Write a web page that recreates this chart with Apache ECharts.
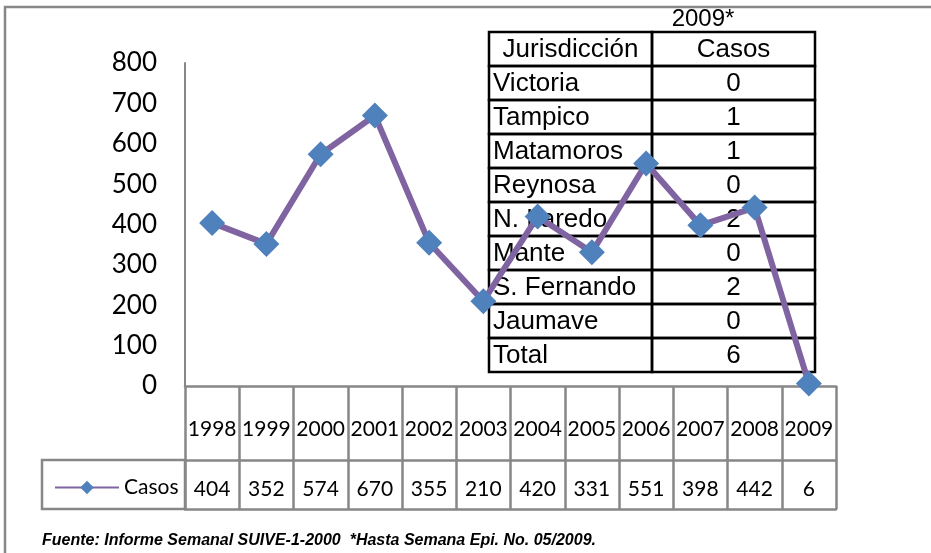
<!DOCTYPE html>
<html>
<head>
<meta charset="utf-8">
<script src="https://cdn.jsdelivr.net/npm/echarts@6/dist/echarts.min.js"></script>
<style>
  html, body { margin: 0; padding: 0; background: #fff; }
  #chart { width: 931px; height: 553px; }
</style>
</head>
<body>
<div id="chart"></div>
<script>
var years = ['1998', '1999', '2000', '2001', '2002', '2003', '2004', '2005', '2006', '2007', '2008', '2009'];
var casos = [404, 352, 574, 670, 355, 210, 420, 331, 551, 398, 442, 6];
var yTicks = { min: 0, max: 800, interval: 100 };

var jurisdicciones = ['Victoria', 'Tampico', 'Matamoros', 'Reynosa', 'N. Laredo', 'Mante', 'S. Fernando', 'Jaumave', 'Total'];
var casos2009 = [0, 1, 1, 0, 2, 0, 2, 0, 6];

var gray = '#878787';
var chart = echarts.init(document.getElementById('chart'));

// table of 2009 cases drawn on top of the plot
var tbl = { x: 489, y: 32, w1: 163, w2: 163, rowH: 34 };
var tableEls = [];
var rows = [['Jurisdicción', 'Casos']].concat(jurisdicciones.map(function (j, i) { return [j, String(casos2009[i])]; }));
rows.forEach(function (r, i) {
  var top = tbl.y + i * tbl.rowH;
  tableEls.push({
    type: 'rect', z: 1,
    shape: { x: tbl.x, y: top, width: tbl.w1, height: tbl.rowH },
    style: { fill: 'none', stroke: '#000', lineWidth: 2.5 }
  });
  tableEls.push({
    type: 'rect', z: 1,
    shape: { x: tbl.x + tbl.w1, y: top, width: tbl.w2, height: tbl.rowH },
    style: { fill: 'none', stroke: '#000', lineWidth: 2.5 }
  });
  tableEls.push({
    type: 'text', z: 1,
    x: i === 0 ? tbl.x + tbl.w1 / 2 : tbl.x + 4, y: top + tbl.rowH / 2 + 1,
    style: { text: r[0], font: '26px "Liberation Sans"', fill: '#000',
      textAlign: i === 0 ? 'center' : 'left', textVerticalAlign: 'middle' }
  });
  tableEls.push({
    type: 'text', z: 1,
    x: tbl.x + tbl.w1 + tbl.w2 / 2, y: top + tbl.rowH / 2 + 1,
    style: { text: r[1], font: '26px "Liberation Sans"', fill: '#000',
      textAlign: 'center', textVerticalAlign: 'middle' }
  });
});
tableEls.push({
  type: 'text', z: 1, x: 703, y: 19,
  style: { text: '2009*', font: '24px "Liberation Sans"', fill: '#000', textAlign: 'center', textVerticalAlign: 'middle' }
});

var option = {
  animation: false,
  backgroundColor: '#fff',
  grid: { left: 185, right: 95, top: 63, bottom: 167 },
  legend: {
    left: 49, top: 472,
    itemWidth: 64, itemHeight: 17, itemGap: 0,
    textStyle: { fontFamily: 'Lato', fontSize: 21, color: '#000' },
    data: ['Casos']
  },
  xAxis: [
    {
      type: 'category', data: years, position: 'bottom',
      axisLine: { show: true, lineStyle: { color: gray, width: 2.5 } },
      axisTick: { show: true, length: 74, lineStyle: { color: gray, width: 2.5 } },
      axisLabel: { margin: 33, fontFamily: 'Lato', fontSize: 21, color: '#000', interval: 0 }
    },
    {
      type: 'category', data: casos.map(String), position: 'bottom', offset: 74,
      axisLine: { show: true, lineStyle: { color: gray, width: 2.5 } },
      axisTick: { show: true, length: 49, lineStyle: { color: gray, width: 2.5 } },
      axisLabel: { margin: 19, fontFamily: 'Lato', fontSize: 21, color: '#000', interval: 0 }
    },
    {
      type: 'category', data: years, position: 'bottom', offset: 123,
      axisLine: { show: true, lineStyle: { color: gray, width: 2.5 } },
      axisTick: { show: false }, axisLabel: { show: false }
    }
  ],
  yAxis: {
    type: 'value', min: yTicks.min, max: yTicks.max, interval: yTicks.interval,
    axisLine: { show: true, lineStyle: { color: gray, width: 2 } },
    axisTick: { show: false },
    splitLine: { show: false },
    axisLabel: { margin: 28, fontFamily: 'Lato', fontSize: 26, color: '#000' }
  },
  graphic: [
    {
      type: 'rect', z: 0,
      shape: { x: 5, y: 7, width: 1000, height: 700 },
      style: { fill: 'none', stroke: gray, lineWidth: 2.5 }
    },
    {
      type: 'rect', z: 0,
      shape: { x: 42, y: 460, width: 143, height: 49 },
      style: { fill: 'none', stroke: gray, lineWidth: 2.5 }
    },
    {
      type: 'text', z: 1, x: 42, y: 541,
      style: { text: 'Fuente: Informe Semanal SUIVE-1-2000  *Hasta Semana Epi. No. 05/2009.',
        font: 'italic bold 16px "Liberation Sans"', fill: '#000', textVerticalAlign: 'middle' }
    }
  ].concat(tableEls),
  series: [
    {
      name: 'Casos', type: 'line', data: casos, z: 5,
      xAxisIndex: 0,
      symbol: 'diamond', symbolSize: 26, showSymbol: true,
      lineStyle: { color: '#8064A2', width: 6 },
      itemStyle: { color: '#4F81BD' }
    }
  ]
};

chart.setOption(option);
window.onresize = function () { chart.resize(); };
</script>
</body>
</html>
